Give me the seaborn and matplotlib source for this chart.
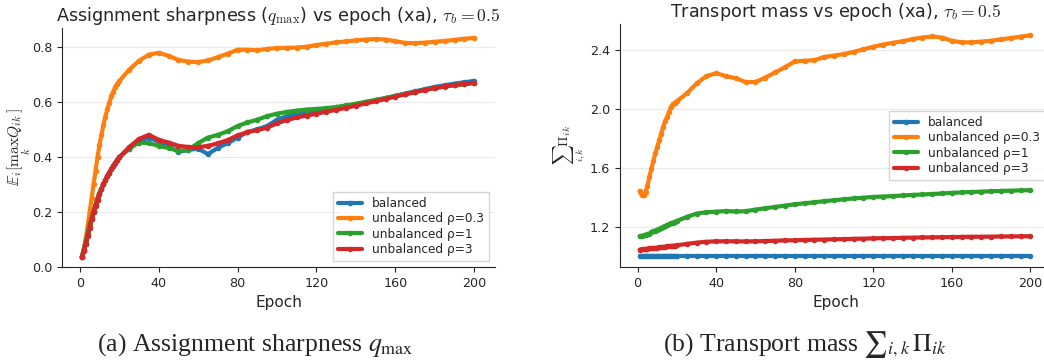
import pandas as pd
import matplotlib
matplotlib.use("Agg")
import matplotlib.pyplot as plt
import seaborn as sns

# ---- Daten ----
epochs = list(range(1, 21)) + list(range(25, 201, 5))

methods = ["balanced", "unbalanced ρ=0.3", "unbalanced ρ=1", "unbalanced ρ=3"]

# (a) Assignment sharpness q_max
qmax_balanced = [0.035, 0.06, 0.085, 0.115, 0.145, 0.175, 0.20, 0.225, 0.245, 0.265,
                 0.283, 0.30, 0.315, 0.33, 0.343, 0.355, 0.367, 0.378, 0.388, 0.398,
                 0.43, 0.455, 0.47, 0.455, 0.44, 0.418, 0.425, 0.43, 0.41, 0.433,
                 0.45, 0.47, 0.49, 0.50, 0.512, 0.535, 0.548, 0.555, 0.56, 0.565,
                 0.572, 0.578, 0.584, 0.591, 0.598, 0.605, 0.613, 0.622, 0.63, 0.638,
                 0.646, 0.654, 0.66, 0.666, 0.671, 0.676]
qmax_rho03 = [0.036, 0.06, 0.10, 0.15, 0.20, 0.25, 0.30, 0.35, 0.40, 0.443,
              0.48, 0.516, 0.546, 0.574, 0.597, 0.62, 0.637, 0.653, 0.665, 0.675,
              0.716, 0.749, 0.771, 0.778, 0.767, 0.752, 0.746, 0.744, 0.75, 0.762,
              0.775, 0.789, 0.789, 0.787, 0.792, 0.795, 0.796, 0.797, 0.80, 0.806,
              0.811, 0.816, 0.819, 0.823, 0.826, 0.828, 0.826, 0.82, 0.814, 0.813,
              0.815, 0.818, 0.821, 0.825, 0.829, 0.832]
qmax_rho1 = [0.035, 0.065, 0.095, 0.125, 0.155, 0.18, 0.205, 0.228, 0.25, 0.268,
             0.285, 0.30, 0.315, 0.33, 0.343, 0.355, 0.367, 0.378, 0.388, 0.398,
             0.43, 0.452, 0.45, 0.44, 0.432, 0.422, 0.425, 0.45, 0.47, 0.48,
             0.493, 0.512, 0.525, 0.535, 0.548, 0.557, 0.563, 0.568, 0.572, 0.574,
             0.577, 0.581, 0.587, 0.593, 0.60, 0.607, 0.614, 0.621, 0.628, 0.636,
             0.643, 0.65, 0.655, 0.66, 0.664, 0.668]
qmax_rho3 = [0.035, 0.058, 0.083, 0.113, 0.143, 0.173, 0.198, 0.223, 0.245, 0.265,
             0.283, 0.30, 0.315, 0.33, 0.343, 0.355, 0.367, 0.378, 0.388, 0.398,
             0.435, 0.465, 0.48, 0.462, 0.452, 0.44, 0.436, 0.435, 0.44, 0.449,
             0.461, 0.478, 0.49, 0.497, 0.506, 0.522, 0.534, 0.543, 0.55, 0.557,
             0.564, 0.571, 0.578, 0.586, 0.594, 0.602, 0.61, 0.619, 0.627, 0.635,
             0.643, 0.65, 0.656, 0.661, 0.665, 0.669]

# (b) Transport mass sum_{i,k} Pi_ik
mass_balanced = [1.0] * 56  # konstant 1.0
mass_rho03 = [1.443, 1.414, 1.414, 1.436, 1.48, 1.54, 1.595, 1.648, 1.70, 1.743,
              1.79, 1.834, 1.88, 1.918, 1.948, 1.98, 2.016, 2.035, 2.045, 2.055,
              2.107, 2.175, 2.225, 2.245, 2.225, 2.21, 2.185, 2.185, 2.215, 2.25,
              2.285, 2.325, 2.33, 2.334, 2.355, 2.365, 2.375, 2.39, 2.408, 2.425,
              2.44, 2.452, 2.463, 2.477, 2.488, 2.495, 2.487, 2.466, 2.455, 2.455,
              2.46, 2.466, 2.475, 2.484, 2.494, 2.503]
mass_rho1 = [1.134, 1.136, 1.14, 1.143, 1.147, 1.153, 1.16, 1.167, 1.173, 1.18,
             1.186, 1.192, 1.198, 1.204, 1.21, 1.216, 1.222, 1.228, 1.234, 1.239,
             1.266, 1.289, 1.298, 1.302, 1.306, 1.303, 1.305, 1.316, 1.325, 1.334,
             1.343, 1.352, 1.359, 1.366, 1.373, 1.38, 1.386, 1.392, 1.397, 1.402,
             1.405, 1.408, 1.412, 1.416, 1.419, 1.422, 1.426, 1.43, 1.433, 1.436,
             1.438, 1.441, 1.443, 1.445, 1.447, 1.448]
mass_rho3 = [1.043, 1.045, 1.046, 1.048, 1.049, 1.051, 1.052, 1.054, 1.055, 1.057,
             1.059, 1.06, 1.062, 1.063, 1.065, 1.067, 1.068, 1.07, 1.071, 1.073,
             1.082, 1.091, 1.097, 1.10, 1.10, 1.10, 1.099, 1.10, 1.102, 1.104,
             1.106, 1.107, 1.109, 1.111, 1.112, 1.114, 1.115, 1.117, 1.118, 1.12,
             1.121, 1.122, 1.124, 1.125, 1.126, 1.127, 1.128, 1.129, 1.13, 1.131,
             1.131, 1.132, 1.133, 1.133, 1.134, 1.134]


def long_df(series):
    rows = []
    for name, vals in zip(methods, series):
        for e, v in zip(epochs, vals):
            rows.append({"epoch": e, "value": v, "method": name})
    return pd.DataFrame(rows)


df_q = long_df([qmax_balanced, qmax_rho03, qmax_rho1, qmax_rho3])
df_m = long_df([mass_balanced, mass_rho03, mass_rho1, mass_rho3])

# ---- Stil ----
sns.set_style("ticks")
plt.rcParams["font.family"] = ["DejaVu Sans"]
plt.rcParams["mathtext.fontset"] = "cm"

W, H = 1044, 362
fig = plt.figure(figsize=(W / 100, H / 100), dpi=100)
ax1 = fig.add_axes([62 / W, 1 - 267 / H, (495 - 62) / W, (267 - 28) / H])
ax2 = fig.add_axes([620 / W, 1 - 267 / H, 431 / W, (267 - 24) / H])

palette = sns.color_palette("tab10", 4)

for ax, df in [(ax1, df_q), (ax2, df_m)]:
    sns.lineplot(data=df, x="epoch", y="value", hue="method", palette=palette,
                 marker="o", markersize=4, markeredgewidth=0, linewidth=3,
                 ax=ax)
    ax.set_xlim(-9, 210.5)
    ax.set_xticks([0, 40, 80, 120, 160, 200])
    ax.grid(axis="y", color="#ebebeb", linewidth=0.9)
    ax.set_axisbelow(True)
    ax.tick_params(labelsize=9.2, length=3.5)
    ax.set_xlabel("Epoch", fontsize=11)
    sns.despine(ax=ax)

ax1.set_ylim(0, 0.868)
ax1.set_yticks([0.0, 0.2, 0.4, 0.6, 0.8])
ax1.set_ylabel(r"$\mathbb{E}_i[\max_k Q_{ik}]$", fontsize=11.2)
ax1.yaxis.set_label_coords(-0.068, 0.5)
ax1.set_title(r"Assignment sharpness ($q_{\max}$) vs epoch (xa), $\tau_b=0.5$",
              fontsize=12.7, pad=5)
ax1.legend(loc="lower right", fontsize=8.7, labelspacing=0.2, borderpad=0.4,
           frameon=True, fancybox=False)

ax2.set_ylim(0.925, 2.58)
ax2.set_yticks([1.2, 1.6, 2.0, 2.4])
ax2.set_ylabel(r"$\sum_{i,k}\Pi_{ik}$", fontsize=10)
ax2.yaxis.set_label_coords(-0.075, 0.5)
ax2.set_title(r"Transport mass vs epoch (xa), $\tau_b=0.5$", fontsize=12.7, pad=5)
ax2.legend(loc="center right", fontsize=8.7, labelspacing=0.2, borderpad=0.4,
           frameon=True, fancybox=False)

# Bildunterschriften
fig.text(255 / W, 1 - 345 / H, r"(a) Assignment sharpness $q_{\max}$",
         fontsize=18.5, family="Liberation Serif", math_fontfamily="stix",
         ha="center", va="center")
fig.text(805 / W, 1 - 345 / H, r"(b) Transport mass ${\sum}_{i,k}\,\Pi_{ik}$",
         fontsize=18.5, family="Liberation Serif", math_fontfamily="stix",
         ha="center", va="center")

fig.savefig("out.png", dpi=100)
